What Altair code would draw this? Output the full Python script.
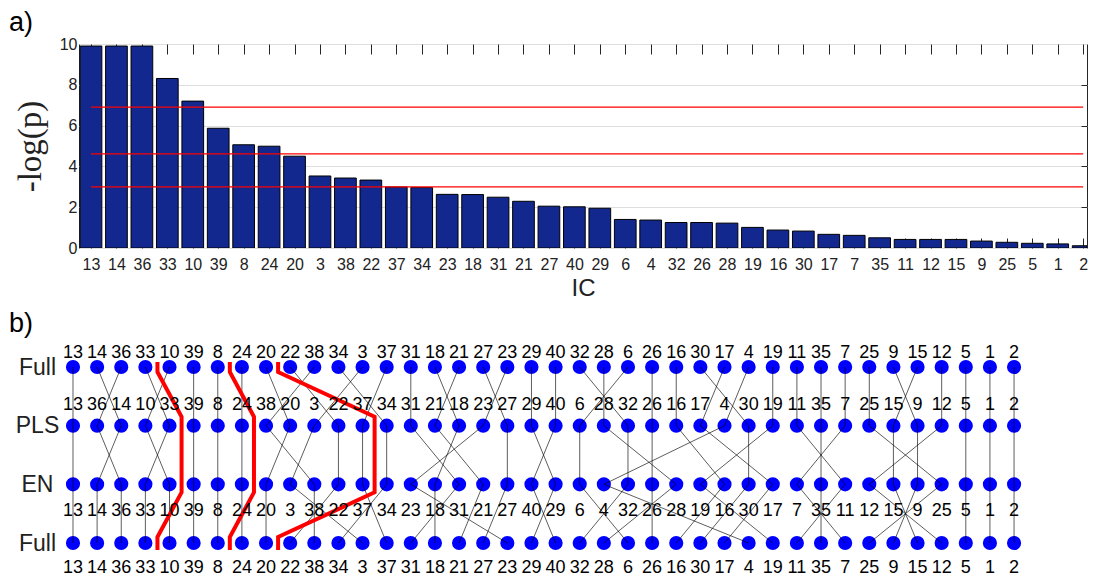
import json
import altair as alt
import pandas as pd

# ---------------- data ----------------
ic_order = [13, 14, 36, 33, 10, 39, 8, 24, 20, 3, 38, 22, 37, 34, 23, 18, 31, 21, 27, 40,
            29, 6, 4, 32, 26, 28, 19, 16, 30, 17, 7, 35, 11, 12, 15, 9, 25, 5, 1, 2]
neg_log_p = [9.9, 9.9, 9.9, 8.31, 7.20, 5.87, 5.06, 4.99, 4.50, 3.53, 3.43, 3.33, 2.99, 2.96,
             2.63, 2.62, 2.49, 2.29, 2.05, 2.02, 1.95, 1.40, 1.37, 1.25, 1.25, 1.22, 1.01, 0.88,
             0.83, 0.67, 0.62, 0.50, 0.42, 0.42, 0.42, 0.34, 0.28, 0.23, 0.20, 0.11]
thresholds = [6.91, 4.61, 3.00]

rank_full = [13, 14, 36, 33, 10, 39, 8, 24, 20, 22, 38, 34, 3, 37, 31, 18, 21, 27, 23, 29,
             40, 32, 28, 6, 26, 16, 30, 17, 4, 19, 11, 35, 7, 25, 9, 15, 12, 5, 1, 2]
rank_pls = [13, 36, 14, 10, 33, 39, 8, 24, 38, 20, 3, 22, 37, 34, 31, 21, 18, 23, 27, 29,
            40, 6, 28, 32, 26, 16, 17, 4, 30, 19, 11, 35, 7, 25, 15, 9, 12, 5, 1, 2]
rank_en = [13, 14, 36, 33, 10, 39, 8, 24, 20, 3, 38, 22, 37, 34, 23, 18, 31, 21, 27, 40,
           29, 6, 4, 32, 26, 28, 19, 16, 30, 17, 7, 35, 11, 12, 15, 9, 25, 5, 1, 2]
row_names = ["Full", "EN", "PLS", "Full"]          # row index 1..4 (bottom to top)

# group separators (boundaries between ranks) drawn in red
sep_outer = [3.5, 6.5, 8.5]
sep_inner = [4.5, 7.5, 12.5]
sep_path_y = [4.085, 3.915, 3.153, 1.864, 1.102, 0.881]
sep_path_side = ["outer", "outer", "inner", "inner", "outer", "outer"]

# ---------------- tables ----------------
n = len(ic_order)
df_a = pd.DataFrame({"idx": list(range(1, n + 1)), "ic": ic_order, "val": neg_log_p})
df_thr = pd.DataFrame({"thr": thresholds, "x0": [1] * len(thresholds), "x1": [n] * len(thresholds)})

rows = [(4, rank_full), (3, rank_pls), (2, rank_en), (1, rank_full)]
nodes = []
for r, ranking in rows:
    for p, ic in enumerate(ranking):
        nodes.append({"row": r, "pos": p, "ic": str(ic), "seq": 5 - r})
df_nodes = pd.DataFrame(nodes)

red = []
for k in range(len(sep_outer)):
    for j, (yy, side) in enumerate(zip(sep_path_y, sep_path_side)):
        red.append({"sep": k, "seq": j, "row": yy,
                    "pos": sep_outer[k] if side == "outer" else sep_inner[k]})
df_red = pd.DataFrame(red)

FONT = "Liberation Sans"
TXT = "#222222"
AX = "#262626"
W = 1008
STEP_A = 25.44
X0_A = 0.528
X1_A = X0_A + W / STEP_A
HALF_BAR = 0.4265
STEP_B = 24.13
X0_B = 0.249

ic_expr = json.dumps([str(v) for v in ic_order]) + "[datum.value - 1]"
row_expr = json.dumps(row_names) + "[datum.value - 1]"

# ---------------- panel a ----------------
xs_a = alt.Scale(domain=[X0_A, X1_A], nice=False, zero=False)
ys_a = alt.Scale(domain=[0, 10], nice=False)
base_a = alt.Chart(df_a)

bars = base_a.transform_calculate(
    x_lo=f"datum.idx - {HALF_BAR}",
    x_hi=f"min(datum.idx + {HALF_BAR}, {X1_A})",
).mark_rect(color="#13288e", stroke="black", strokeWidth=1, clip=True).encode(
    x=alt.X("x_lo:Q", scale=xs_a,
            axis=alt.Axis(values=list(range(1, n + 1)), labelExpr=ic_expr, ticks=False,
                          domain=False, grid=False, labelFontSize=16, labelFont=FONT,
                          labelColor=TXT, labelPadding=8, title="IC", titleFontSize=24,
                          titleFont=FONT, titleFontWeight="normal", titleColor=TXT,
                          titlePadding=4)),
    x2="x_hi:Q",
    y=alt.Y("val:Q", scale=ys_a,
            axis=alt.Axis(values=[0, 2, 4, 6, 8, 10], ticks=False, domain=False, grid=True,
                          gridColor="#dedede", labelFontSize=16, labelFont=FONT,
                          labelColor=TXT, labelPadding=2, title="-log(p)",
                          titleFont="Liberation Serif", titleFontSize=33,
                          titleFontWeight="normal", titleColor=TXT, titlePadding=12)),
    y2=alt.datum(0),
)

top_ticks = base_a.mark_point(opacity=0, size=1, clip=True).encode(
    x=alt.X("idx:Q", scale=xs_a,
            axis=alt.Axis(orient="top", values=list(range(1, n + 1)), labels=False,
                          domain=False, grid=False, tickSize=10, tickColor=AX, offset=-10,
                          title=None)),
    y=alt.Y("val:Q", scale=ys_a, axis=None),
)
bottom_ticks = base_a.mark_point(opacity=0, size=1, clip=True).encode(
    x=alt.X("idx:Q", scale=xs_a,
            axis=alt.Axis(orient="bottom", values=list(range(1, n + 1)), labels=False,
                          domain=False, grid=False, tickSize=10, tickColor=AX, offset=-10,
                          title=None)),
    y=alt.Y("val:Q", scale=ys_a, axis=None),
)
right_ticks = base_a.mark_point(opacity=0, size=1, clip=True).encode(
    x=alt.X("idx:Q", scale=xs_a, axis=None),
    y=alt.Y("val:Q", scale=ys_a,
            axis=alt.Axis(orient="right", values=[2, 4, 6, 8], labels=False, domain=False,
                          grid=False, tickSize=6, tickColor=AX, offset=-6, title=None)),
)
thr_rules = alt.Chart(df_thr).mark_rule(color="#ff0000", strokeWidth=1.3).encode(
    x=alt.X("x0:Q", scale=xs_a, axis=None),
    x2="x1:Q",
    y=alt.Y("thr:Q", scale=ys_a, axis=None),
)

panel_a = alt.layer(bars, top_ticks, bottom_ticks, right_ticks, thr_rules).resolve_axis(
    x="independent", y="independent"
).properties(
    width=W, height=204,
    title=alt.TitleParams("a)", anchor="start", frame="group", fontSize=27, font=FONT,
                          fontWeight="normal", color="black", offset=-1, dx=-70),
    view=alt.ViewBackground(stroke=AX, strokeWidth=1),
)

# ---------------- panel b ----------------
xs_b = alt.Scale(domain=[X0_B, X0_B + W / STEP_B], nice=False, zero=False)
ys_b = alt.Scale(domain=[0.455, 4.375], nice=False, zero=False)

dots = alt.Chart(df_nodes).mark_circle(color="#0000ff", opacity=1, size=200).encode(
    x=alt.X("pos:Q", scale=xs_b, axis=None),
    y=alt.Y("row:Q", scale=ys_b,
            axis=alt.Axis(values=[1, 2, 3, 4], labelExpr=row_expr, ticks=False, domain=False,
                          grid=False, labelFontSize=23, labelFont=FONT, labelColor=TXT,
                          labelAlign="center", labelPadding=42, title=None)),
)
links = alt.Chart(df_nodes).mark_line(color="black", strokeWidth=0.8, opacity=0.8).encode(
    x=alt.X("pos:Q", scale=xs_b, axis=None),
    y=alt.Y("row:Q", scale=ys_b, axis=None),
    detail="ic:N",
    order=alt.Order("seq:Q"),
)
red_lines = alt.Chart(df_red).mark_line(color="#ff0000", strokeWidth=4).encode(
    x=alt.X("pos:Q", scale=xs_b, axis=None),
    y=alt.Y("row:Q", scale=ys_b, axis=None),
    detail="sep:N",
    order=alt.Order("seq:Q"),
)


def labels(row, dy):
    return alt.Chart(df_nodes).transform_filter(alt.datum.row == row).mark_text(
        fontSize=18, font=FONT, color="black", dy=dy
    ).encode(
        x=alt.X("pos:Q", scale=xs_b, axis=None),
        y=alt.Y("row:Q", scale=ys_b, axis=None),
        text="ic:N",
    )


panel_b = alt.layer(
    dots, links, red_lines,
    labels(4, -14), labels(3, -21), labels(2, 27), labels(1, 25),
).resolve_axis(y="independent").properties(
    width=W, height=230,
    title=alt.TitleParams("b)", anchor="start", frame="group", fontSize=27, font=FONT,
                          fontWeight="normal", color="black", offset=6, dx=-70),
    view=alt.ViewBackground(stroke=None),
)

chart = alt.vconcat(panel_a, panel_b, spacing=9).properties(
    padding={"left": 0, "top": 0, "right": 0, "bottom": 0},
    background="white",
)

chart.save("out.html", embed_options={"renderer": "svg", "actions": False})
